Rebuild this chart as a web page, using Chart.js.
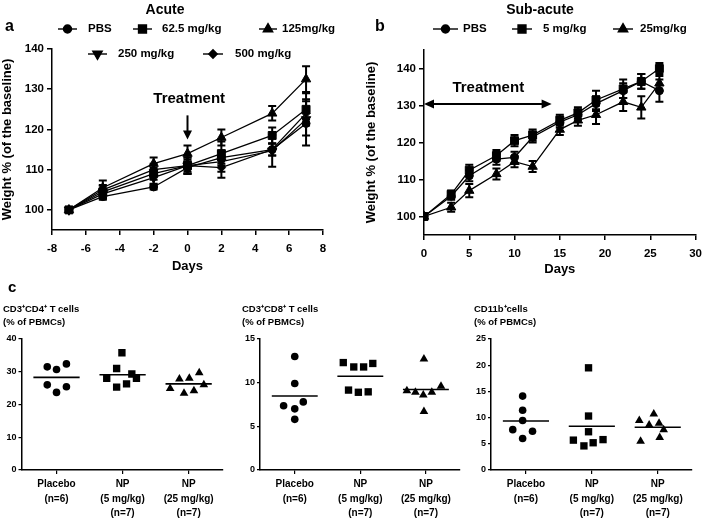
<!DOCTYPE html>
<html>
<head>
<meta charset="utf-8">
<script src="https://cdn.jsdelivr.net/npm/chart.js@4.4.1/dist/chart.umd.min.js"></script>
<style>
  body { margin: 0; background: #fff; width: 709px; height: 520px; position: relative; overflow: hidden; }
  canvas { position: absolute; }
</style>
</head>
<body>
<canvas id="acute" width="355" height="285" style="left:0;top:0"></canvas>
<canvas id="subacute" width="354" height="285" style="left:355px;top:0"></canvas>
<canvas id="cd4" width="235" height="240" style="left:0;top:280px"></canvas>
<canvas id="cd8" width="235" height="240" style="left:235px;top:280px"></canvas>
<canvas id="cd11b" width="239" height="240" style="left:470px;top:280px"></canvas>
<script>
const FONT = "'Liberation Sans', Arial, sans-serif";

// panel a - acute
const acuteDays = [-7, -5, -2, 0, 2, 5, 7];
const acuteLabels = ["PBS", "62.5 mg/kg", "125mg/kg", "250 mg/kg", "500 mg/kg"];
const acutePBS = [100, 103.3, 105.7, 110.5, 113.0, 115.0, 121.5];
const acute62 = [100, 104.5, 109.0, 111.0, 114.0, 118.5, 125.0];
const acute125 = [100, 105.5, 111.5, 114.0, 118.0, 124.0, 132.5];
const acute250 = [100, 104.0, 108.0, 111.0, 112.0, 114.7, 122.5];
const acute500 = [100, 105.0, 110.0, 111.0, 110.5, 115.0, 124.0];
const acutePBSErr = [0, 0.8, 0.6, 1.5, 1.5, 1.5, 3.0];
const acute62Err = [0, 1.5, 1.5, 1.5, 3.0, 2.0, 2.5];
const acute125Err = [0, 1.8, 1.5, 2.0, 2.0, 1.8, 3.2];
const acute250Err = [0, 1.2, 1.5, 2.0, 2.5, 4.0, 6.5];
const acute500Err = [0, 1.2, 1.5, 2.0, 2.5, 1.5, 3.0];
const acuteYTicks = [100, 110, 120, 130, 140];

// panel b - sub-acute
const subDays = [0, 3, 5, 8, 10, 12, 15, 17, 19, 22, 24, 26];
const subLabels = ["PBS", "5 mg/kg", "25mg/kg"];
const subPBS = [100, 105.5, 111.0, 115.5, 116.0, 121.5, 125.5, 127.5, 130.5, 134.0, 136.5, 134.0];
const sub5 = [100, 106.0, 112.5, 116.5, 120.5, 122.0, 126.0, 128.0, 131.5, 134.5, 136.5, 140.0];
const sub25 = [100, 102.5, 107.0, 111.5, 114.8, 113.5, 123.5, 126.0, 127.5, 131.0, 129.5, 136.0];
const subPBSErr = [0, 1.0, 1.5, 1.5, 1.5, 1.5, 1.5, 1.5, 2.0, 2.0, 2.0, 3.0];
const sub5Err = [0, 1.0, 1.5, 1.5, 1.5, 1.5, 1.5, 1.5, 2.5, 2.5, 2.0, 1.5];
const sub25Err = [0, 1.2, 1.8, 1.5, 1.5, 1.5, 1.5, 1.5, 2.5, 2.5, 3.0, 2.0];
const subYTicks = [100, 110, 120, 130, 140];

// panel c - blood cell counts
const groupNames = [["Placebo", "(n=6)"], ["NP", "(5 mg/kg)", "(n=7)"], ["NP", "(25 mg/kg)", "(n=7)"]];
const cd4Placebo = [31.5, 30.7, 32.4, 26.0, 23.7, 25.4];
const cd4NP5 = [35.8, 31.0, 29.3, 28.0, 28.0, 26.3, 25.3];
const cd4NP25 = [24.9, 27.8, 23.4, 28.0, 24.2, 29.7, 26.0];
const cd8Placebo = [13.0, 9.9, 7.0, 5.8, 7.35, 7.8];
const cd8NP5 = [12.3, 11.8, 11.8, 12.2, 9.15, 8.9, 8.95];
const cd8NP25 = [12.7, 9.07, 8.9, 8.6, 8.9, 9.6, 6.7];
const cd11bPlacebo = [14.1, 11.4, 9.45, 7.7, 7.4, 6.0];
const cd11bNP5 = [19.5, 10.3, 7.3, 5.7, 4.6, 5.2, 5.8];
const cd11bNP25 = [9.45, 10.7, 8.6, 8.9, 7.7, 5.5, 6.2];
// horizontal scatter of the dots inside each group (in group units)
const cd4Jitter = [[-0.14, 0, 0.15, -0.14, 0, 0.15], [-0.01, -0.09, 0.14, -0.24, 0.21, 0.06, -0.09], [-0.28, -0.14, -0.07, 0.01, 0.08, 0.16, 0.23]];
const cd8Jitter = [[0, 0, 0, 0, -0.17, 0.13], [-0.26, -0.1, 0.05, 0.19, -0.18, -0.03, 0.12], [-0.03, -0.29, -0.16, -0.04, 0.09, 0.23, -0.03]];
const cd11bJitter = [[-0.05, -0.05, -0.05, -0.2, 0.1, -0.05], [-0.05, -0.05, -0.05, -0.28, -0.12, 0.02, 0.17], [-0.28, -0.06, -0.13, 0.02, 0.09, -0.26, 0.03]];

const MARKERS = [
  { pointStyle: "circle", radius: 4, rotation: 0 },
  { pointStyle: "rect", radius: 5.6, rotation: 0 },
  { pointStyle: "triangle", radius: 5.4, rotation: 0 },
  { pointStyle: "triangle", radius: 5.4, rotation: 180 },
  { pointStyle: "rectRot", radius: 4.2, rotation: 0 },
];

function drawMarker(ctx, m, x, y) {
  ctx.fillStyle = "#000";
  ctx.strokeStyle = "#000";
  Chart.helpers.drawPoint(ctx, { pointStyle: m.pointStyle, radius: m.radius, rotation: m.rotation, borderWidth: 1 }, x, y);
}

// error bars with caps
const errorBars = {
  id: "errorBars",
  afterDatasetsDraw(chart) {
    const { ctx, scales: { x, y } } = chart;
    ctx.save();
    ctx.strokeStyle = "#000";
    ctx.lineWidth = 2;
    chart.data.datasets.forEach((ds) => {
      if (!ds.errors) return;
      ds.data.forEach((p, i) => {
        const e = ds.errors[i];
        if (!e) return;
        const px = x.getPixelForValue(p.x);
        const top = y.getPixelForValue(p.y + e);
        const bot = y.getPixelForValue(p.y - e);
        ctx.beginPath();
        ctx.moveTo(px, top); ctx.lineTo(px, bot);
        ctx.moveTo(px - 4, top); ctx.lineTo(px + 4, top);
        ctx.moveTo(px - 4, bot); ctx.lineTo(px + 4, bot);
        ctx.stroke();
      });
    });
    ctx.restore();
  },
};

// titles, panel letters, legend rows, "Treatment" arrows
const decor = {
  id: "decor",
  afterDraw(chart, args, opts) {
    const ctx = chart.ctx;
    ctx.save();
    ctx.fillStyle = "#000";
    ctx.strokeStyle = "#000";
    ctx.textBaseline = "middle";
    (opts.texts || []).forEach((t) => {
      ctx.font = "bold " + t.size + "px " + FONT;
      ctx.textAlign = t.align || "left";
      ctx.fillText(t.text, t.x, t.y);
    });
    (opts.legend || []).forEach((l) => {
      const ds = chart.data.datasets[l.ds];
      ctx.lineWidth = 1.4;
      ctx.beginPath();
      ctx.moveTo(l.x1, l.y); ctx.lineTo(l.x2, l.y);
      ctx.stroke();
      drawMarker(ctx, MARKERS[l.ds], (l.x1 + l.x2) / 2, l.y);
      ctx.fillStyle = "#000";
      ctx.font = "bold 11.5px " + FONT;
      ctx.textAlign = "left";
      ctx.fillText(ds.label, l.tx, l.y);
    });
    const tr = opts.treatment;
    if (tr) {
      const { x, y } = chart.scales;
      ctx.font = "bold 15px " + FONT;
      ctx.textAlign = "center";
      ctx.fillText("Treatment", x.getPixelForValue(tr.textX), y.getPixelForValue(tr.textY));
      ctx.lineWidth = 2;
      if (tr.down) {
        const ax = x.getPixelForValue(tr.down.x);
        const y1 = y.getPixelForValue(tr.down.from);
        const y2 = y.getPixelForValue(tr.down.to);
        ctx.beginPath(); ctx.moveTo(ax, y1); ctx.lineTo(ax, y2 - 6); ctx.stroke();
        ctx.beginPath(); ctx.moveTo(ax - 4.5, y2 - 9); ctx.lineTo(ax + 4.5, y2 - 9); ctx.lineTo(ax, y2); ctx.closePath(); ctx.fill();
      }
      if (tr.span) {
        const ay = y.getPixelForValue(tr.span.y);
        const x1 = x.getPixelForValue(tr.span.from);
        const x2 = x.getPixelForValue(tr.span.to);
        ctx.beginPath(); ctx.moveTo(x1 + 6, ay); ctx.lineTo(x2 - 6, ay); ctx.stroke();
        ctx.beginPath(); ctx.moveTo(x1, ay); ctx.lineTo(x1 + 10, ay - 4.5); ctx.lineTo(x1 + 10, ay + 4.5); ctx.closePath(); ctx.fill();
        ctx.beginPath(); ctx.moveTo(x2, ay); ctx.lineTo(x2 - 10, ay - 4.5); ctx.lineTo(x2 - 10, ay + 4.5); ctx.closePath(); ctx.fill();
      }
    }
    ctx.restore();
  },
};

function tickFont(size) {
  return { family: FONT, size: size, weight: "bold" };
}

function lineSeries(label, days, vals, errs, k) {
  const m = MARKERS[k];
  return {
    label: label,
    data: days.map((d, i) => ({ x: d, y: vals[i] })),
    errors: errs,
    borderColor: "#000",
    backgroundColor: "#000",
    borderWidth: 1.3,
    pointStyle: m.pointStyle,
    pointRadius: m.radius,
    pointRotation: m.rotation,
    pointBorderWidth: 1,
    tension: 0,
  };
}

function weightChart(id, datasets, xr, yr, yTicks, sizes, decorOpts) {
  new Chart(document.getElementById(id), {
    type: "line",
    data: { datasets: datasets },
    options: {
      responsive: false,
      animation: false,
      layout: { padding: { left: 0, top: sizes.top, right: sizes.right, bottom: 0 } },
      plugins: { legend: { display: false }, tooltip: { enabled: false }, decor: decorOpts },
      scales: {
        x: {
          type: "linear", min: xr[0], max: xr[1],
          ticks: { stepSize: xr[2], color: "#000", font: tickFont(11.5), padding: 7, maxRotation: 0 },
          grid: { drawOnChartArea: false, color: "#000", tickLength: 5, lineWidth: 1.5 },
          border: { color: "#000", width: 1.5 },
          title: { display: true, text: "Days", color: "#000", font: tickFont(13), padding: { top: 0, bottom: sizes.daysPad } },
          afterFit: (s) => { s.height = sizes.xh; },
        },
        y: {
          type: "linear", min: yr[0], max: yr[1],
          afterBuildTicks: (axis) => { axis.ticks = yTicks.map((v) => ({ value: v })); },
          ticks: { color: "#000", font: tickFont(11.5), padding: 3 },
          grid: { drawOnChartArea: false, color: "#000", tickLength: 5, lineWidth: 1.5 },
          border: { color: "#000", width: 1.5 },
          title: { display: true, text: "Weight % (of the baseline)", color: "#000", font: tickFont(13), padding: { top: sizes.wPad, bottom: 0 } },
          afterFit: (s) => { s.width = sizes.yw; },
        },
      },
    },
    plugins: [errorBars, decor],
  });
}

weightChart("acute", [
  lineSeries(acuteLabels[0], acuteDays, acutePBS, acutePBSErr, 0),
  lineSeries(acuteLabels[1], acuteDays, acute62, acute62Err, 1),
  lineSeries(acuteLabels[2], acuteDays, acute125, acute125Err, 2),
  lineSeries(acuteLabels[3], acuteDays, acute250, acute250Err, 3),
  lineSeries(acuteLabels[4], acuteDays, acute500, acute500Err, 4),
], [-8, 8, 2], [95, 140], acuteYTicks,
  { top: 49, right: 32, xh: 55, yw: 52, daysPad: 11, wPad: 0 },
  {
    texts: [
      { text: "Acute", x: 165, y: 10, size: 14, align: "center" },
      { text: "a", x: 5, y: 27, size: 16 },
    ],
    legend: [
      { ds: 0, x1: 58, x2: 77, y: 29, tx: 88 },
      { ds: 1, x1: 133, x2: 152, y: 29, tx: 162 },
      { ds: 2, x1: 259, x2: 277, y: 29, tx: 282 },
      { ds: 3, x1: 88, x2: 107, y: 54, tx: 118 },
      { ds: 4, x1: 203, x2: 223, y: 54, tx: 235 },
    ],
    treatment: { textX: 0.1, textY: 127.5, down: { x: 0, from: 123.5, to: 117.5 } },
  });

weightChart("subacute", [
  lineSeries(subLabels[0], subDays, subPBS, subPBSErr, 0),
  lineSeries(subLabels[1], subDays, sub5, sub5Err, 1),
  lineSeries(subLabels[2], subDays, sub25, sub25Err, 2),
], [0, 30, 5], [95, 145], subYTicks,
  { top: 50, right: 8, xh: 50, yw: 69, daysPad: 8, wPad: 9 },
  {
    texts: [
      { text: "Sub-acute", x: 185, y: 10, size: 14, align: "center" },
      { text: "b", x: 20, y: 27, size: 16 },
    ],
    legend: [
      { ds: 0, x1: 78, x2: 103, y: 29, tx: 108 },
      { ds: 1, x1: 157, x2: 177, y: 29, tx: 188 },
      { ds: 2, x1: 258, x2: 278, y: 29, tx: 285 },
    ],
    treatment: { textX: 7.1, textY: 134.8, span: { y: 130.4, from: 0, to: 14.1 } },
  });

const DOT_STYLES = [
  { pointStyle: "circle", radius: 3.8 },
  { pointStyle: "rect", radius: 5.2 },
  { pointStyle: "triangle", radius: 5 },
];

function dotChart(id, groups, jitters, yMax, yStep, titleText, sizes, letter) {
  const datasets = [];
  groups.forEach((vals, g) => {
    const st = DOT_STYLES[g];
    datasets.push({
      data: vals.map((v, i) => ({ x: g + 1 + jitters[g][i], y: v })),
      pointStyle: st.pointStyle, pointRadius: st.radius,
      backgroundColor: "#000", borderColor: "#000", pointBorderWidth: 0,
    });
    const mean = vals.reduce((a, b) => a + b, 0) / vals.length;
    datasets.push({
      data: [{ x: g + 0.65, y: mean }, { x: g + 1.35, y: mean }],
      showLine: true, pointRadius: 0, borderColor: "#000", borderWidth: 1.6,
    });
  });
  const texts = [
    { text: titleText, x: sizes.tx, y: 29, size: 9.5 },
    { text: "(% of PBMCs)", x: sizes.tx, y: 42, size: 9.5 },
  ];
  if (letter) texts.push({ text: letter, x: 8, y: 8, size: 15 });
  new Chart(document.getElementById(id), {
    type: "scatter",
    data: { datasets: datasets },
    options: {
      responsive: false,
      animation: false,
      layout: { padding: { left: 0, top: 59, right: sizes.right, bottom: 0 } },
      plugins: { legend: { display: false }, tooltip: { enabled: false }, decor: { texts: texts } },
      scales: {
        x: {
          type: "linear", min: 0.47, max: 3.52,
          afterBuildTicks: (axis) => { axis.ticks = groupNames.map((n, i) => ({ value: i + 1 })); },
          ticks: {
            color: "#000", font: { family: FONT, size: 10, weight: "bold", lineHeight: 1.45 }, padding: 3, maxRotation: 0,
            callback: (v) => groupNames[Math.round(v) - 1],
          },
          grid: { drawOnChartArea: false, color: "#000", tickLength: 4, lineWidth: 1.2 },
          border: { color: "#000", width: 1.5 },
          afterFit: (s) => { s.height = 50; },
        },
        y: {
          type: "linear", min: 0, max: yMax,
          ticks: { stepSize: yStep, color: "#000", font: tickFont(9), padding: 2 },
          grid: { drawOnChartArea: false, color: "#000", tickLength: 3, lineWidth: 1.2 },
          border: { color: "#000", width: 1.5 },
          afterFit: (s) => { s.width = sizes.yw; },
        },
      },
    },
    plugins: [decor],
  });
}

dotChart("cd4", [cd4Placebo, cd4NP5, cd4NP25], cd4Jitter, 40, 10, "CD3\u207ACD4\u207A T cells", { right: 12, yw: 21.5, tx: 3 }, "c");
dotChart("cd8", [cd8Placebo, cd8NP5, cd8NP25], cd8Jitter, 15, 5, "CD3\u207ACD8\u207A T cells", { right: 10, yw: 25, tx: 7 });
dotChart("cd11b", [cd11bPlacebo, cd11bNP5, cd11bNP25], cd11bJitter, 25, 5, "CD11b\u207Acells", { right: 17, yw: 21, tx: 4 });
</script>
</body>
</html>
